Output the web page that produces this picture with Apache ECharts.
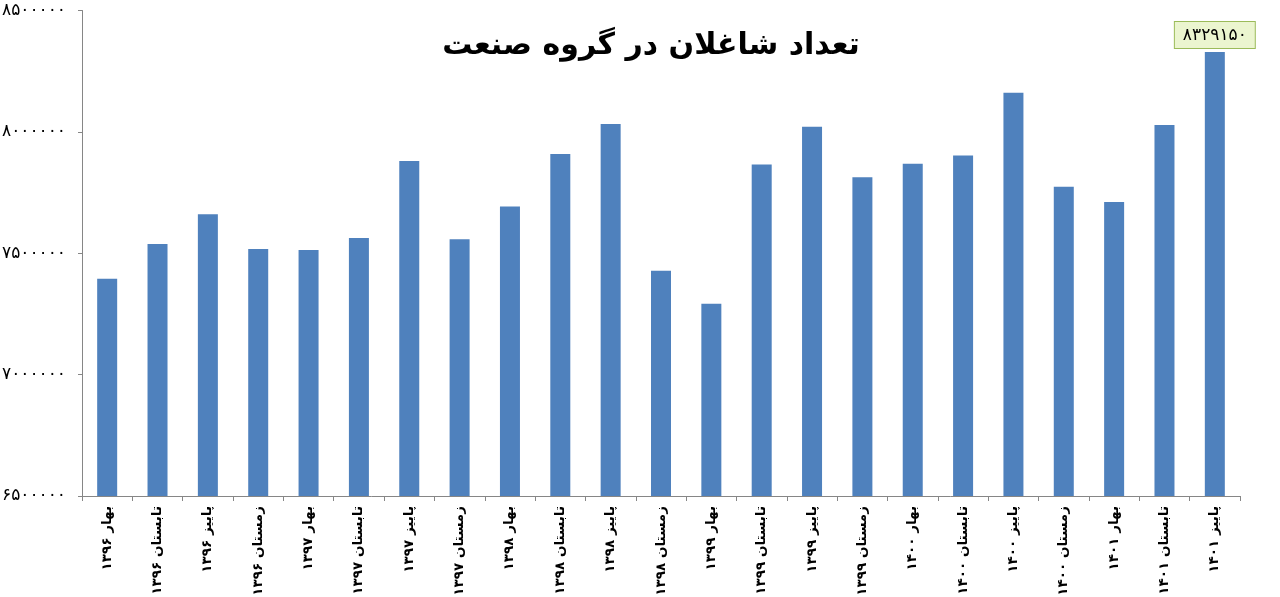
<!DOCTYPE html>
<html>
<head>
<meta charset="utf-8">
<script src="https://cdn.jsdelivr.net/npm/echarts@6/dist/echarts.min.js"></script>
<style>
html,body{margin:0;padding:0;background:#fff;}
#c{width:1280px;height:597px;}
</style>
</head>
<body>
<div id="c"></div>
<script>
const titleText = 'تعداد شاغلان در گروه صنعت';
const categories = [
  'بهار ۱۳۹۶','تابستان ۱۳۹۶','پاییز ۱۳۹۶','زمستان ۱۳۹۶',
  'بهار ۱۳۹۷','تابستان ۱۳۹۷','پاییز ۱۳۹۷','زمستان ۱۳۹۷',
  'بهار ۱۳۹۸','تابستان ۱۳۹۸','پاییز ۱۳۹۸','زمستان ۱۳۹۸',
  'بهار ۱۳۹۹','تابستان ۱۳۹۹','پاییز ۱۳۹۹','زمستان ۱۳۹۹',
  'بهار ۱۴۰۰','تابستان ۱۴۰۰','پاییز ۱۴۰۰','زمستان ۱۴۰۰',
  'بهار ۱۴۰۱','تابستان ۱۴۰۱','پاییز ۱۴۰۱'
];
const employed = [
  7395000, 7538000, 7661000, 7517000,
  7513000, 7563000, 7880000, 7558000,
  7693000, 7909000, 8032000, 7428000,
  7292000, 7866000, 8021000, 7813000,
  7869000, 7903000, 8161000, 7774000,
  7711000, 8028000, 8329150
];
const yMin = 6500000, yMax = 8500000, yStep = 500000;

const faDigits = '۰۱۲۳۴۵۶۷۸۹';
function toFa(n){ return String(n).replace(/[0-9]/g, d => faDigits[+d]); }

const lastIdx = employed.length - 1;
const seriesData = employed.map((v, i) => i === lastIdx ? {
  value: v,
  label: {
    show: true, position: 'top', distance: 4,
    formatter: p => toFa(p.value),
    color: '#000', fontSize: 17, fontFamily: 'DejaVu Sans',
    backgroundColor: '#ebf5cf', borderColor: '#9bbb59', borderWidth: 1,
    padding: [5, 8, 4, 8]
  }
} : v);

const chart = echarts.init(document.getElementById('c'), null, {renderer: 'canvas'});
chart.setOption({
  animation: false,
  backgroundColor: '#ffffff',
  title: {
    text: titleText,
    left: 646, top: 26, textAlign: 'center',
    textStyle: {fontFamily: 'DejaVu Sans', fontWeight: 'bold', fontSize: 30, color: '#000'}
  },
  grid: {left: 82, right: 40, top: 10.5, bottom: 101, containLabel: false, outerBoundsMode: 'none'},
  xAxis: {
    type: 'category',
    data: categories,
    axisLine: {lineStyle: {color: '#868686', width: 1}},
    axisTick: {show: true, length: 5, lineStyle: {color: '#868686'}},
    axisLabel: {
      rotate: 90, interval: 0, margin: 10,
      fontFamily: 'DejaVu Sans', fontWeight: 'bold', fontSize: 13.5, color: '#000'
    }
  },
  yAxis: {
    type: 'value',
    min: yMin, max: yMax, interval: yStep,
    axisLine: {show: true, lineStyle: {color: '#868686', width: 1}},
    axisTick: {show: true, length: 4, lineStyle: {color: '#868686'}},
    splitLine: {show: false},
    axisLabel: {
      formatter: v => toFa(v), margin: 16,
      fontFamily: 'DejaVu Sans', fontSize: 17, color: '#000'
    }
  },
  series: [{
    type: 'bar',
    data: seriesData,
    barWidth: 20,
    itemStyle: {color: '#4f81bd'}
  }]
});
</script>
</body>
</html>
